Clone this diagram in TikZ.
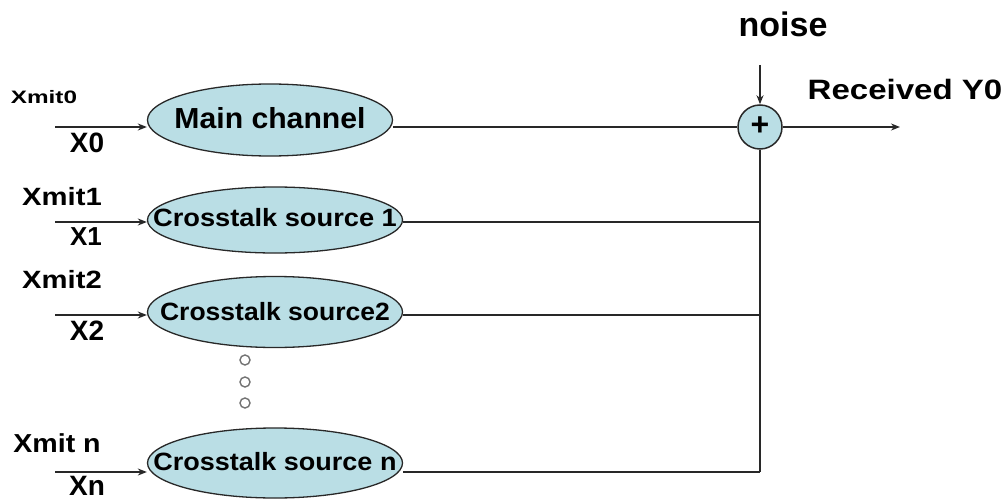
\documentclass[tikz,border=0pt]{standalone}
\usepackage{fontspec}
\usepackage{graphicx}
\setmainfont{Liberation Sans}
\usetikzlibrary{shapes.geometric,arrows.meta}
\definecolor{chfill}{RGB}{186,222,229}
\definecolor{edge}{RGB}{40,40,40}
\begin{document}
\begin{tikzpicture}[x=1pt,y=-1pt,
  chan/.style={ellipse,draw=edge,line width=1.3pt,fill=chfill,inner sep=0pt,minimum width=255pt},
  lbl/.style={anchor=base,inner sep=0pt,font=\bfseries},
  wire/.style={draw=edge,line width=1.5pt},
  arr/.style={wire,-{Stealth[length=9pt,width=7pt]}},
  dotc/.style={circle,draw=edge!65,line width=1.4pt,fill=white,inner sep=0pt,minimum size=10pt}
]
\useasboundingbox (0,0) rectangle (1006,500);
% channels
\node[chan,minimum width=245pt,minimum height=72pt] (main) at (270,120)
  {\makebox[0pt]{\raisebox{5pt}{\fontsize{29}{30}\bfseries\scalebox{1.04}[1]{Main channel}}}};
\node[chan,minimum height=66pt] (cs1) at (275,220)
  {\makebox[0pt]{\raisebox{6pt}{\fontsize{25}{26}\bfseries\scalebox{1.09}[1]{Crosstalk source 1}}}};
\node[chan,minimum height=71pt] (cs2) at (275,312)
  {\makebox[0pt]{\raisebox{2pt}{\fontsize{25}{26}\bfseries\scalebox{1.06}[1]{Crosstalk source2}}}};
\node[chan,minimum height=70pt] (csn) at (275,463)
  {\makebox[0pt]{\raisebox{3pt}{\fontsize{25}{26}\bfseries\scalebox{1.08}[1]{Crosstalk source n}}}};
% summing junction
\node[circle,draw=edge,line width=1.5pt,fill=chfill,minimum size=44pt,inner sep=0pt,
  font=\fontsize{32}{32}\bfseries] (sum) at (760,127) {\raisebox{2pt}{+}};
% input coordinates
\coordinate (in0) at (55,127);
\coordinate (in1) at (55,222);
\coordinate (in2) at (55,315);
\coordinate (in3) at (55,472);
\coordinate (j1) at (760,222);
\coordinate (j2) at (760,315);
\coordinate (j3) at (760,472);
\coordinate (noisetop) at (760,65);
\coordinate (out) at (900,127);
% labels
\node[lbl,font=\fontsize{18}{20}\bfseries] (t0) at (44,104) {\scalebox{1.35}[1]{Xmit0}};
\node[lbl,font=\fontsize{28}{30}\bfseries] (x0) at (87,153) {X0};
\node[lbl,font=\fontsize{25}{27}\bfseries] (t1) at (62,205) {\scalebox{1.17}[1]{Xmit1}};
\node[lbl,font=\fontsize{26}{28}\bfseries] (x1) at (86,245) {X1};
\node[lbl,font=\fontsize{25}{27}\bfseries] (t2) at (62,288) {\scalebox{1.17}[1]{Xmit2}};
\node[lbl,font=\fontsize{28}{30}\bfseries] (x2) at (87,340) {X2};
\node[lbl,font=\fontsize{26}{28}\bfseries] (tn) at (57,452) {\scalebox{1.1}[1]{Xmit n}};
\node[lbl,font=\fontsize{28}{30}\bfseries] (xn) at (87,495) {Xn};
\node[lbl,font=\fontsize{34}{36}\bfseries] (noise) at (783,37) {noise};
\node[lbl,font=\fontsize{28}{30}\bfseries] (recv) at (905,100) {\scalebox{1.18}[1]{Received Y0}};
% inputs
\draw[arr] (in0) -- (in0 -| main.west);
\draw[arr] (in1) -- (in1 -| cs1.west);
\draw[arr] (in2) -- (in2 -| cs2.west);
\draw[arr] (in3) -- (in3 -| csn.west);
% outputs
\draw[wire] (sum -| main.east) -- (sum.west);
\draw[wire] (j1 -| cs1.east) -- (j1);
\draw[wire] (j2 -| cs2.east) -- (j2);
\draw[wire] (j3 -| csn.east) -- (j3);
\draw[wire] (sum.south) -- (j3);
\draw[arr] (noisetop) -- (sum.north);
\draw[arr] (sum.east) -- (out);
% dots
\node[dotc] (d1) at (245,360) {};
\node[dotc] (d2) at (245,382) {};
\node[dotc] (d3) at (245,403) {};
\end{tikzpicture}
\end{document}
